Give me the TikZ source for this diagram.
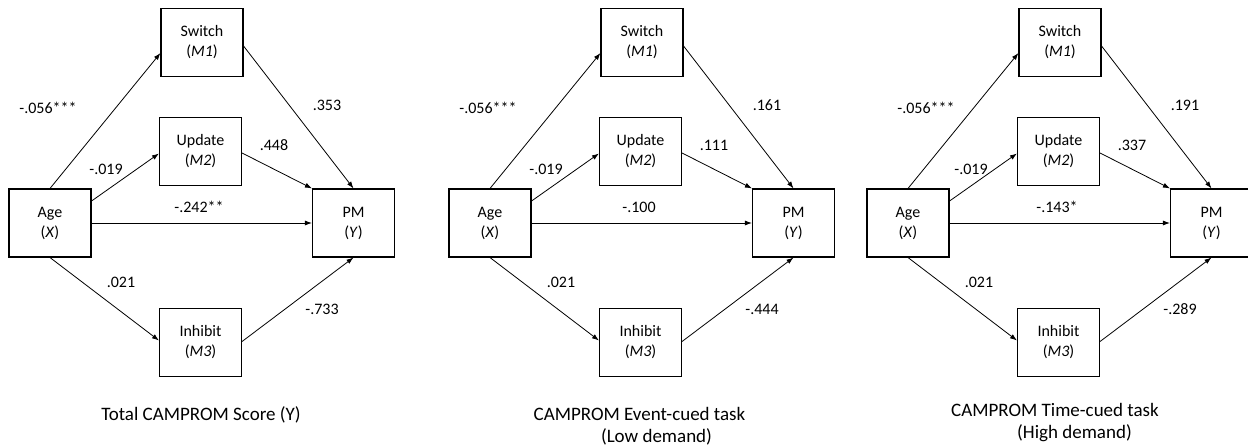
\documentclass[tikz,border=0pt]{standalone}
\usepackage{fontspec}
\setmainfont{Carlito}
\usetikzlibrary{arrows.meta}

\tikzset{
  varbox/.style={draw, line width=1.1pt, minimum width=82pt, minimum height=68pt,
    inner sep=0pt, align=center, font=\fontsize{16}{20}\selectfont},
  link/.style={draw, line width=0.8pt, -{Latex[length=7pt,width=5pt]}},
  coef/.style={font=\fontsize{16}{19}\selectfont, inner sep=0pt},
  captext/.style={font=\fontsize{19}{23}\selectfont, inner sep=0pt},
  a1 tweak/.style={},
  a2 tweak/.style={},
}

% One serial-mediation panel: #1 name prefix, #2 horizontal offset,
% #3..#9 path coefficients (a1, a2, c', a3, b1, b2, b3)
\newcommand\mediationpanel[9]{%
  \begin{scope}[xshift=#2pt]
    \node[varbox] (#1age) at (50,223)    {Age\\(\textit{X})};
    \node[varbox] (#1sw)  at (202,42.5)  {Switch\\(\textit{M1})};
    \node[varbox] (#1up)  at (200.5,151.5) {Update\\(\textit{M2})};
    \node[varbox] (#1in)  at (200.5,342.5) {Inhibit\\(\textit{M3})};
    \node[varbox] (#1pm)  at (353.5,223) {PM\\(\textit{Y})};
    % paths from age to the mediators and to PM
    \draw[link] (#1age.north) -- ([yshift=-10.5pt]#1sw.west);
    \draw[link] ([yshift=22pt]#1age.east) -- ([yshift=-2pt]#1up.west);
    \draw[link] (#1age.east) -- (#1pm.west);
    \draw[link] (#1age.south) -- ([yshift=2pt]#1in.west);
    % paths from the mediators to PM
    \draw[link] ([yshift=-3.5pt]#1sw.east) -- (#1pm.north);
    \draw[link] ([yshift=-1.5pt]#1up.east) -- (#1pm.north west);
    \draw[link] ([yshift=1pt]#1in.east) -- (#1pm.south);
    % coefficients
    \node[coef,a1 tweak] (#1ca1) at (48,108)  {#3};
    \node[coef,a2 tweak] (#1ca2) at (106,169) {#4};
    \node[coef] (#1cc)  at (199,207) {#5};
    \node[coef] (#1ca3) at (121,282) {#6};
    \node[coef] (#1cb1) at (327,105) {#7};
    \node[coef] (#1cb2) at (274,145) {#8};
    \node[coef] (#1cb3) at (322,309) {#9};
  \end{scope}}

\begin{document}
\begin{tikzpicture}[x=1pt,y=-1pt]
  \useasboundingbox (0,0) rectangle (1248,447);
  \fill[white] (0,0) rectangle (1248,447);
  \clip (0,0) rectangle (1248,447);

  \mediationpanel{p}{0}{-.056***}{-.019}{-.242**}{.021}{.353}{.448}{-.733}
  \node[captext] (capp) at (201,415) {Total CAMPROM Score (Y)};

  \mediationpanel{q}{440}{-.056***}{-.019}{-.100}{.021}{.161}{.111}{-.444}
  \node[captext] (capq) at (639.5,414) {CAMPROM Event-cued task};
  \node[captext] (capqb) at (656.5,437) {(Low demand)};

  \tikzset{a1 tweak/.style={xshift=20pt}, a2 tweak/.style={xshift=7pt}}
  \mediationpanel{r}{858}{-.056***}{-.019}{-.143*}{.021}{.191}{.337}{-.289}
  \node[captext] (capr) at (1055,410) {CAMPROM Time-cued task};
  \node[captext] (caprb) at (1074.5,433) {(High demand)};
\end{tikzpicture}
\end{document}
